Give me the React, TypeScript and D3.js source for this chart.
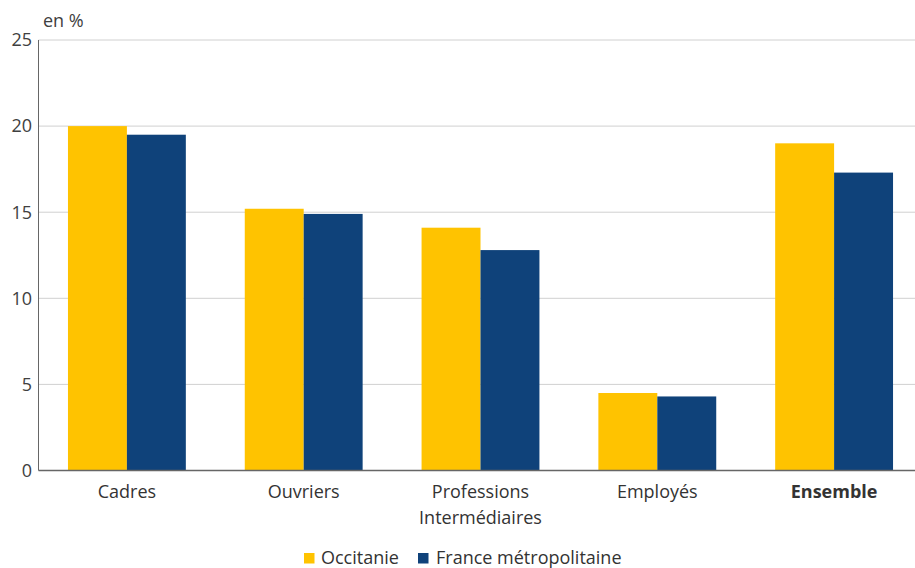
import React from "react";
import * as d3 from "d3";

const categories = ["Cadres", "Ouvriers", "Professions\nIntermédiaires", "Employés", "Ensemble"];
const occitanie = [20.0, 15.2, 14.1, 4.5, 19.0];
const france = [19.5, 14.9, 12.8, 4.3, 17.3];
const yTicks = [0, 5, 10, 15, 20, 25];
const seriesNames = ["Occitanie", "France métropolitaine"];
const colors = ["#FFC300", "#0F427A"];

export default function App() {
  const W = 915, H = 568;
  const x0 = 38.5, x1 = 922.5, yTop = 40, yBot = 470.5;
  const x = d3.scaleBand<string>().domain(categories).range([x0, x1]).paddingInner(0).paddingOuter(0);
  const y = d3.scaleLinear().domain([0, 25]).range([yBot, yTop]);
  const bw = x.bandwidth();
  const barW = bw / 3;
  const font = "'Open Sans', sans-serif";
  const fs = 18;
  const series = [occitanie, france];
  return (
    <svg width={W} height={H} style={{ position: "absolute", left: 0, top: 0 }} fontFamily={font}>
      <rect width={W} height={H} fill="#fff" />
      {yTicks.map((t) => (
        <g key={t}>
          {t > 0 && <line x1={x0} x2={W} y1={y(t)} y2={y(t)} stroke="#d0d0d0" strokeWidth={1} />}
          <text x={32} y={y(t)} dy="0.35em" textAnchor="end" fontSize={fs} fill="#404040">{t}</text>
        </g>
      ))}
      <text x={43} y={27} fontSize={fs} fill="#404040">en %</text>
      {categories.map((c, i) => {
        const cx = (x(c) as number) + bw / 2;
        return (
          <g key={c}>
            {series.map((s, j) => (
              <rect key={j} x={cx - barW + j * barW} y={y(s[i])} width={barW} height={yBot - y(s[i])} fill={colors[j]} />
            ))}
            {c.split("\n").map((line, k) => (
              <text key={k} x={cx} y={498 + k * 26} textAnchor="middle" fontSize={fs} fill="#333"
                fontWeight={c === "Ensemble" ? "bold" : "normal"}>{line}</text>
            ))}
          </g>
        );
      })}
      <line x1={x0} x2={x0} y1={yTop} y2={yBot} stroke="#666" strokeWidth={1} />
      <line x1={x0} x2={W} y1={yBot} y2={yBot} stroke="#666" strokeWidth={1.5} />
      <g>
        <rect x={304} y={553} width={10.5} height={10.5} fill={colors[0]} />
        <text x={321} y={564} fontSize={fs} fill="#333">{seriesNames[0]}</text>
        <rect x={418} y={553} width={10.5} height={10.5} fill={colors[1]} />
        <text x={436} y={564} fontSize={fs} fill="#333">{seriesNames[1]}</text>
      </g>
    </svg>
  );
}
